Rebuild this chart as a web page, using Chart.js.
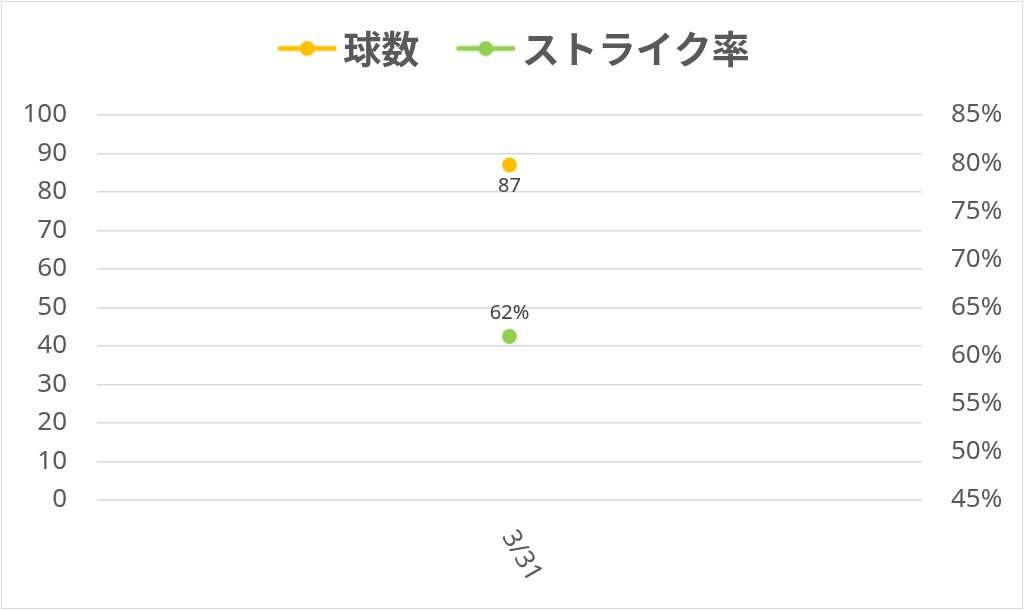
<!DOCTYPE html>
<html>
<head>
<meta charset="utf-8">
<title>球数・ストライク率</title>
<script src="https://cdn.jsdelivr.net/npm/chart.js@4.4.0/dist/chart.umd.min.js"></script>
<style>
  body { margin: 0; background: #fff; }
  #wrap { width: 1024px; height: 610px; }
</style>
</head>
<body>
<div id="wrap"><canvas id="pitchChart" width="1024" height="610"></canvas></div>
<script>
/** data **/
var gameDates = ['3/31'];
var pitchCount = [87];
var strikeRate = [62]; // percent
var countTicks = [0, 10, 20, 30, 40, 50, 60, 70, 80, 90, 100];
var rateTicks = [45, 50, 55, 60, 65, 70, 75, 80, 85];
var seriesNames = ['球数', 'ストライク率'];
var seriesColors = ['#FFC000', '#92D050'];

var textGray = '#595959';

// legend marker: short line with a dot in the middle (like excel)
function legendMark(color) {
  var c = document.createElement('canvas');
  c.width = 60; c.height = 16;
  var g = c.getContext('2d');
  g.strokeStyle = color;
  g.lineWidth = 5;
  g.lineCap = 'round';
  g.beginPath();
  g.moveTo(3, 8);
  g.lineTo(57, 8);
  g.stroke();
  g.fillStyle = color;
  g.beginPath();
  g.arc(30, 8, 7.5, 0, Math.PI * 2);
  g.fill();
  return c;
}
var legendMarks = [legendMark(seriesColors[0]), legendMark(seriesColors[1])];

// white background + thin frame
var chartFrame = {
  id: 'chartFrame',
  beforeDraw: function(chart) {
    var ctx = chart.ctx;
    ctx.save();
    ctx.fillStyle = '#fff';
    ctx.fillRect(0, 0, chart.width, chart.height);
    ctx.strokeStyle = '#d9d9d9';
    ctx.lineWidth = 1;
    ctx.strokeRect(1.5, 1.5, chart.width - 3, chart.height - 3);
    ctx.restore();
  }
};

// keep legend up top but reserve room down to the plot
var legendSpace = {
  id: 'legendSpace',
  beforeLayout: function(chart) {
    var lg = chart.legend;
    if (lg && !lg._spaceFixed) {
      var fit = lg.fit;
      lg.fit = function() {
        fit.call(this);
        this.height = 135;
      };
      lg._spaceFixed = true;
    }
  },
  afterLayout: function(chart) {
    // nudge legend a bit right, excel centres it slightly off
    chart.legend.left += 8;
    chart.legend.right += 8;
  }
};

// value labels: 87 under the orange dot, 62% over the green one
var valueLabels = {
  id: 'valueLabels',
  afterDatasetsDraw: function(chart) {
    var ctx = chart.ctx;
    var offsets = [21, -23];
    ctx.save();
    ctx.font = '20px "Noto Sans", sans-serif';
    ctx.fillStyle = '#404040';
    ctx.textAlign = 'center';
    ctx.textBaseline = 'middle';
    chart.data.datasets.forEach(function(ds, i) {
      chart.getDatasetMeta(i).data.forEach(function(pt, j) {
        var txt = i === 1 ? ds.data[j] + '%' : String(ds.data[j]);
        ctx.fillText(txt, pt.x, pt.y + offsets[i]);
      });
    });
    ctx.restore();
  }
};

// category label, turned clockwise
var slantedDates = {
  id: 'slantedDates',
  afterDraw: function(chart) {
    var ctx = chart.ctx;
    var xs = chart.scales.x;
    ctx.save();
    ctx.font = '26px "Noto Sans", sans-serif';
    ctx.fillStyle = textGray;
    ctx.textAlign = 'center';
    ctx.textBaseline = 'middle';
    gameDates.forEach(function(d, i) {
      ctx.save();
      ctx.translate(xs.getPixelForTick(i) + 12, chart.chartArea.bottom + 56);
      ctx.rotate(60 * Math.PI / 180);
      ctx.fillText(d, 0, 0);
      ctx.restore();
    });
    ctx.restore();
  }
};

var ctxChart = document.getElementById('pitchChart');
var pitchChart = new Chart(ctxChart, {
  type: 'line',
  data: {
    labels: gameDates,
    datasets: [
      {
        label: seriesNames[0],
        data: pitchCount,
        yAxisID: 'y',
        borderColor: seriesColors[0],
        backgroundColor: seriesColors[0],
        pointRadius: 7.5,
        pointBorderWidth: 0,
        borderWidth: 5
      },
      {
        label: seriesNames[1],
        data: strikeRate,
        yAxisID: 'y1',
        borderColor: seriesColors[1],
        backgroundColor: seriesColors[1],
        pointRadius: 7.5,
        pointBorderWidth: 0,
        borderWidth: 5
      }
    ]
  },
  options: {
    responsive: false,
    animation: false,
    devicePixelRatio: 1,
    layout: { padding: { top: -20, left: 0, right: 0, bottom: 0 } },
    plugins: {
      tooltip: { enabled: false },
      legend: {
        position: 'top',
        labels: {
          usePointStyle: true,
          pointStyleWidth: 34,
          padding: 49.5,
          color: textGray,
          font: { family: '"Noto Sans CJK JP", sans-serif', size: 38, weight: 'bold', lineHeight: 1 },
          generateLabels: function(chart) {
            var items = Chart.defaults.plugins.legend.labels.generateLabels(chart);
            items.forEach(function(it, i) { it.pointStyle = legendMarks[i]; });
            return items;
          }
        }
      }
    },
    scales: {
      x: {
        offset: true,
        ticks: { display: false },
        grid: { display: false, drawTicks: false },
        border: { display: false },
        afterFit: function(s) { s.height = 110; }
      },
      y: {
        position: 'left',
        min: countTicks[0],
        max: countTicks[countTicks.length - 1],
        ticks: {
          stepSize: countTicks[1] - countTicks[0],
          color: textGray,
          padding: 30,
          font: { family: '"Noto Sans", sans-serif', size: 26 }
        },
        grid: { color: '#d9d9d9', lineWidth: 1.5, drawTicks: false },
        border: { display: false },
        afterFit: function(s) { s.width = 97; }
      },
      y1: {
        position: 'right',
        min: rateTicks[0],
        max: rateTicks[rateTicks.length - 1],
        ticks: {
          stepSize: rateTicks[1] - rateTicks[0],
          color: textGray,
          padding: 29,
          font: { family: '"Noto Sans", sans-serif', size: 26 },
          callback: function(v) { return v + '%'; }
        },
        grid: { display: false, drawTicks: false },
        border: { display: false },
        afterFit: function(s) { s.width = 102; }
      }
    }
  },
  plugins: [chartFrame, legendSpace, valueLabels, slantedDates]
});
</script>
</body>
</html>
